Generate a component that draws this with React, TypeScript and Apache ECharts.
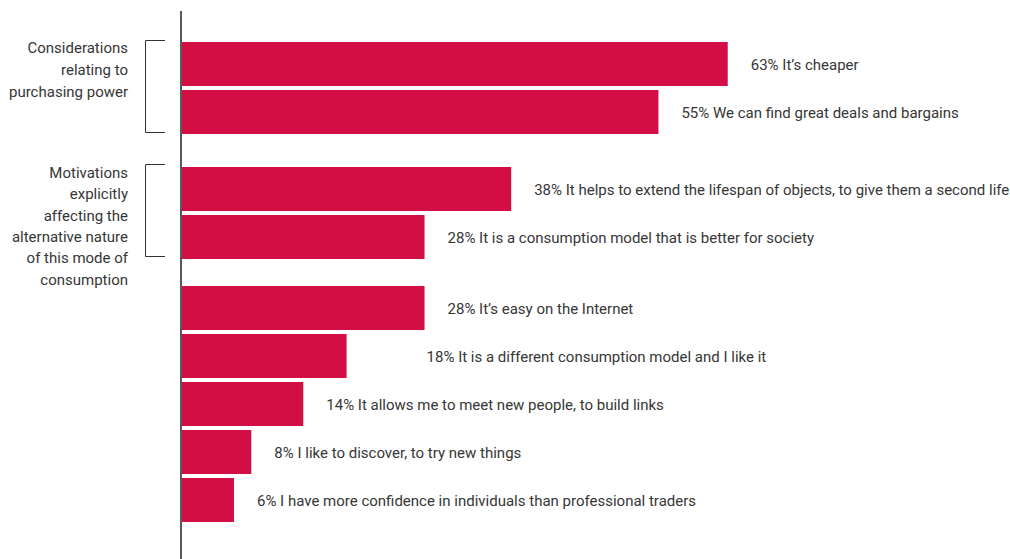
import React, { useEffect, useRef } from "react";
import * as echarts from "echarts";

const categories = [
  "It’s cheaper",
  "We can find great deals and bargains",
  "It helps to extend the lifespan of objects, to give them a second life",
  "It is a consumption model that is better for society",
  "It’s easy on the Internet",
  "It is a different consumption model and I like it",
  "It allows me to meet new people, to build links",
  "I like to discover, to try new things",
  "I have more confidence in individuals than professional traders",
];
const values = [63, 55, 38, 28, 28, 19, 14, 8, 6];
const percentLabels = ["63%", "55%", "38%", "28%", "28%", "18%", "14%", "8%", "6%"];
const groupSizes = [2, 2, 5];
const groupTitles = [
  "Considerations\nrelating to\npurchasing power",
  "Motivations\nexplicitly\naffecting the\nalternative nature\nof this mode of\nconsumption",
];

const FONT = "Roboto, 'Liberation Sans', sans-serif";
const FS = 15;
const TEXT = "#363636";
const RED = "#d20e45";

export default function App() {
  const ref = useRef<HTMLDivElement>(null);
  useEffect(() => {
    if (!ref.current) return;
    const chart = echarts.init(ref.current, null, { renderer: "svg" });
    const gridTops = [40, 165, 284];
    const grids: any[] = [];
    const xAxes: any[] = [];
    const yAxes: any[] = [];
    const series: any[] = [];
    let start = 0;
    groupSizes.forEach((n, g) => {
      const idx = Array.from({ length: n }, (_, i) => start + i);
      grids.push({ left: 182, right: 135, top: gridTops[g], height: n * 48 });
      xAxes.push({ type: "value", gridIndex: g, min: 0, max: 80, show: false });
      yAxes.push({
        type: "category",
        gridIndex: g,
        inverse: true,
        data: idx.map((i) => categories[i]),
        show: false,
      });
      series.push({
        type: "bar",
        xAxisIndex: g,
        yAxisIndex: g,
        barCategoryGap: "8.5%",
        itemStyle: { color: RED },
        label: {
          show: true,
          position: "right",
          distance: 23,
          color: TEXT,
          fontFamily: FONT,
          fontSize: FS,
          offset: [0, 1],
        },
        data: idx.map((i) => ({
          value: values[i],
          label: {
            formatter: `${percentLabels[i]} ${categories[i]}`,
            ...(i === 5 ? { offset: [57, 1] } : {}),
          },
        })),
      });
      start += n;
    });

    chart.setOption({
      animation: false,
      grid: grids,
      xAxis: xAxes,
      yAxis: yAxes,
      series,
      graphic: [
        {
          type: "line",
          shape: { x1: 181, y1: 11, x2: 181, y2: 559 },
          style: { stroke: "#222", lineWidth: 1.5 },
          z: 10,
        },
        {
          type: "polyline",
          shape: { points: [[165, 40.5], [145.5, 40.5], [145.5, 132.5], [165, 132.5]] },
          style: { stroke: "#333", lineWidth: 1, fill: null },
        },
        {
          type: "polyline",
          shape: { points: [[165, 164.5], [145.5, 164.5], [145.5, 256.5], [165, 256.5]] },
          style: { stroke: "#333", lineWidth: 1, fill: null },
        },
        {
          type: "text",
          x: 128,
          y: 37,
          style: {
            text: groupTitles[0],
            align: "right",
            verticalAlign: "top",
            lineHeight: 22,
            fill: TEXT,
            fontFamily: FONT,
            fontSize: FS,
          },
        },
        {
          type: "text",
          x: 128,
          y: 162,
          style: {
            text: groupTitles[1],
            align: "right",
            verticalAlign: "top",
            lineHeight: 21.4,
            fill: TEXT,
            fontFamily: FONT,
            fontSize: FS,
          },
        },
      ],
    });
    return () => chart.dispose();
  }, []);
  return (
    <div
      ref={ref}
      style={{ position: "fixed", left: 0, top: 0, width: 1010, height: 559, background: "#fff" }}
    />
  );
}
